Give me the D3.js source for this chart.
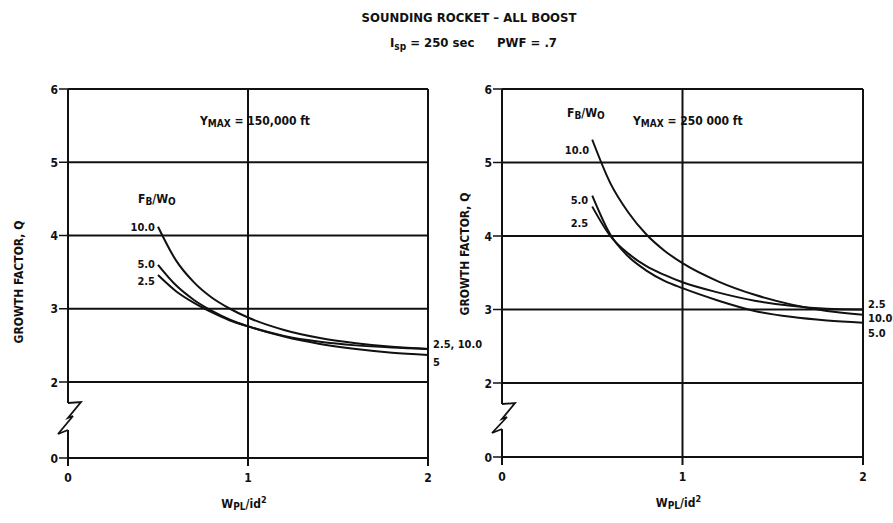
<!DOCTYPE html>
<html>
<head>
<meta charset="utf-8">
<script src="https://cdn.jsdelivr.net/npm/d3@7"></script>
<style>
  html, body { margin: 0; padding: 0; background: #fff; }
  svg text { font-family: "Liberation Sans Narrow", "DejaVu Sans Condensed", sans-serif; font-weight: bold; fill: #111; }
</style>
</head>
<body>
<svg id="chart" width="893" height="523"></svg>
<script>
// Payload weight ratio samples (x) shared by every curve
const wpl = [0.5, 0.6, 0.7, 0.8, 0.9, 1.0, 1.2, 1.4, 1.6, 1.8, 2.0];

// Growth factor Q, Ymax = 150,000 ft
const q150_fb10 = [4.12, 3.66, 3.36, 3.15, 3.00, 2.88, 2.71, 2.60, 2.53, 2.48, 2.45];
const q150_fb5  = [3.60, 3.32, 3.12, 2.97, 2.85, 2.76, 2.62, 2.52, 2.45, 2.40, 2.37];
const q150_fb25 = [3.46, 3.24, 3.08, 2.95, 2.84, 2.76, 2.63, 2.55, 2.50, 2.47, 2.45];

// Growth factor Q, Ymax = 250,000 ft
const q250_fb10 = [5.31, 4.72, 4.32, 4.02, 3.80, 3.63, 3.38, 3.20, 3.07, 2.98, 2.93];
const q250_fb5  = [4.55, 4.02, 3.72, 3.53, 3.39, 3.29, 3.12, 2.98, 2.90, 2.85, 2.82];
const q250_fb25 = [4.40, 4.00, 3.76, 3.59, 3.47, 3.37, 3.23, 3.12, 3.05, 3.01, 3.00];

const xTicks = [0, 1, 2];
const yTicks = [0, 2, 3, 4, 5, 6];
const yGrid = [2, 3, 4, 5, 6];

const svg = d3.select("#chart");

// Title block
svg.append("text").attr("x", 469).attr("y", 22).attr("text-anchor", "middle")
  .style("font-size", "13px").text("SOUNDING ROCKET \u2013 ALL BOOST");
const sub = svg.append("text").attr("x", 390).attr("y", 47).style("font-size", "13px");
sub.append("tspan").text("I");
sub.append("tspan").attr("dy", 3).style("font-size", "10px").text("sp");
sub.append("tspan").attr("dy", -3).text(" = 250 sec");
svg.append("text").attr("x", 497).attr("y", 47).style("font-size", "13px").text("PWF = .7");

const panels = [
  {
    x0: 68, x1: 428, yTop: 89, y2: 382, y0: 458,
    ymaxText: "150,000 ft", ymaxX: 200,
    fbX: 138, fbY: 203,
    series: [
      { q: q150_fb10, name: "10.0", dx: -3, dy: 4 },
      { q: q150_fb5,  name: "5.0",  dx: -3, dy: 3 },
      { q: q150_fb25, name: "2.5",  dx: -3, dy: 10 }
    ],
    endLabels: [ { t: "2.5, 10.0", y: 348 }, { t: "5", y: 366 } ],
    yLabelY: 282, yLabelX: 23
  },
  {
    x0: 502, x1: 863, yTop: 89, y2: 383, y0: 457,
    ymaxText: "250 000 ft", ymaxX: 633,
    fbX: 567, fbY: 117,
    series: [
      { q: q250_fb10, name: "10.0", dx: -3, dy: 14 },
      { q: q250_fb5,  name: "5.0",  dx: -4, dy: 8 },
      { q: q250_fb25, name: "2.5",  dx: -4, dy: 20 }
    ],
    endLabels: [ { t: "2.5", y: 308 }, { t: "10.0", y: 322 }, { t: "5.0", y: 337 } ],
    yLabelY: 254, yLabelX: 469
  }
];

panels.forEach(p => {
  const x = d3.scaleLinear().domain([0, 2]).range([p.x0, p.x1]);
  // broken axis: 0 sits just below the 2..6 span
  const y = d3.scaleLinear().domain([0, 2, 6]).range([p.y0, p.y2, p.yTop]);
  const g = svg.append("g");

  // horizontal grid lines
  g.selectAll("line.h").data(yGrid).join("line")
    .attr("x1", x(0)).attr("x2", x(2))
    .attr("y1", d => y(d)).attr("y2", d => y(d))
    .attr("stroke", "#111").attr("stroke-width", 2);
  // bottom line at Q = 0
  g.append("line").attr("x1", x(0)).attr("x2", x(2)).attr("y1", y(0)).attr("y2", y(0))
    .attr("stroke", "#111").attr("stroke-width", 2);
  // vertical grid lines at 1 and 2
  g.selectAll("line.v").data([1, 2]).join("line")
    .attr("x1", d => x(d)).attr("x2", d => x(d))
    .attr("y1", y(6)).attr("y2", y(0) + 8)
    .attr("stroke", "#111").attr("stroke-width", 2);

  // left axis with break symbol
  const ax = x(0);
  const yb1 = y(2) + 21, yb2 = y(0) - 28;
  g.append("line").attr("x1", ax).attr("x2", ax).attr("y1", y(6)).attr("y2", yb1)
    .attr("stroke", "#111").attr("stroke-width", 2);
  g.append("path")
    .attr("d", `M${ax},${yb1} L${ax + 13},${yb1 - 1} L${ax},${yb1 + 15} L${ax + 5},${yb1 + 13} L${ax - 10},${yb2 + 4} L${ax},${yb2}`)
    .attr("fill", "none").attr("stroke", "#111").attr("stroke-width", 1.8).attr("stroke-linejoin", "miter");
  g.append("line").attr("x1", ax).attr("x2", ax).attr("y1", yb2).attr("y2", y(0) + 8)
    .attr("stroke", "#111").attr("stroke-width", 2);

  // y ticks and labels
  g.selectAll("line.yt").data(yTicks).join("line")
    .attr("x1", ax - 9).attr("x2", ax).attr("y1", d => y(d)).attr("y2", d => y(d))
    .attr("stroke", "#111").attr("stroke-width", 1.5);
  g.selectAll("text.yt").data(yTicks).join("text")
    .attr("x", ax - 10).attr("y", d => y(d) + 4.5).attr("text-anchor", "end")
    .style("font-size", "12px").text(d => d);

  // x tick labels
  g.selectAll("text.xt").data(xTicks).join("text")
    .attr("x", d => x(d)).attr("y", y(0) + 24).attr("text-anchor", "middle")
    .style("font-size", "12px").text(d => d);

  // axis titles
  const xt = g.append("text").attr("x", x(1) - 4).attr("y", y(0) + 50).attr("text-anchor", "middle")
    .style("font-size", "12px");
  xt.append("tspan").text("W");
  xt.append("tspan").attr("dy", 2).style("font-size", "10px").text("PL");
  xt.append("tspan").attr("dy", -2).text("/id");
  xt.append("tspan").attr("dy", -5).style("font-size", "9px").text("2");

  g.append("text")
    .attr("transform", `translate(${p.yLabelX},${p.yLabelY}) rotate(-90)`)
    .attr("text-anchor", "middle").style("font-size", "12px").text("GROWTH FACTOR, Q");

  // Ymax annotation
  const ym = g.append("text").attr("x", p.ymaxX).attr("y", 125).style("font-size", "12px");
  ym.append("tspan").text("Y");
  ym.append("tspan").attr("dy", 2).style("font-size", "10px").text("MAX");
  ym.append("tspan").attr("dy", -2).text(" = " + p.ymaxText);

  // FB/WO legend header
  const fb = g.append("text").attr("x", p.fbX).attr("y", p.fbY).style("font-size", "12px");
  fb.append("tspan").text("F");
  fb.append("tspan").attr("dy", 2).style("font-size", "10px").text("B");
  fb.append("tspan").attr("dy", -2).text("/W");
  fb.append("tspan").attr("dy", 2).style("font-size", "10px").text("O");

  // curves
  const line = d3.line().x((d, i) => x(wpl[i])).y(d => y(d)).curve(d3.curveMonotoneX);
  p.series.forEach(s => {
    g.append("path").attr("d", line(s.q))
      .attr("fill", "none").attr("stroke", "#111").attr("stroke-width", 2);
    g.append("text").attr("x", x(wpl[0]) + s.dx).attr("y", y(s.q[0]) + s.dy)
      .attr("text-anchor", "end").style("font-size", "11px").text(s.name);
  });

  // end-of-curve labels
  g.selectAll("text.end").data(p.endLabels).join("text")
    .attr("x", x(2) + 5).attr("y", d => d.y)
    .style("font-size", "11px").text(d => d.t);
});
</script>
</body>
</html>
